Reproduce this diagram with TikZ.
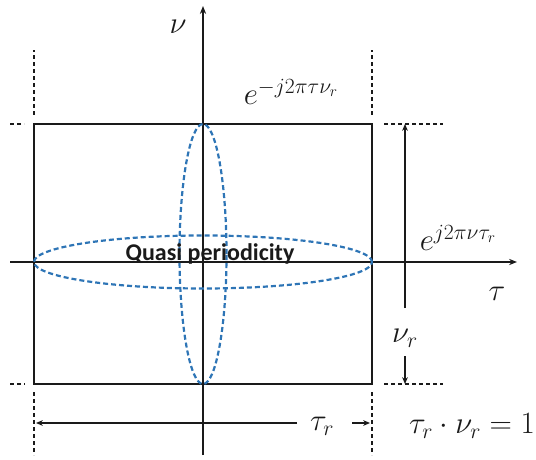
\RequirePackage{fix-cm}
\documentclass[tikz,border=0pt]{standalone}
\usepackage{fontspec}
\newfontfamily\labelfont{Carlito}
\usetikzlibrary{arrows.meta,positioning,calc,shapes.geometric}
\definecolor{ink}{HTML}{1A1A1A}
\definecolor{accent}{HTML}{2E75B6}
\tikzset{
  axis/.style={-{Stealth[length=2.8mm,width=2.2mm]},draw=ink,line width=1.9pt},
  cell/.style={draw=ink,line width=1.9pt,inner sep=0pt,outer sep=0pt},
  ell/.style={ellipse,draw=accent,line width=2.2pt,dash pattern=on 5pt off 3pt,inner sep=0pt,outer sep=0pt},
  guide/.style={draw=ink,line width=1.9pt,dash pattern=on 4pt off 3pt},
  ar/.style={-{Stealth[length=2.4mm,width=2mm]},draw=ink,line width=1.5pt},
  lbl/.style={inner sep=0pt,font=\fontsize{31}{34}\selectfont,text=ink},
  qp/.style={inner sep=0pt,font=\labelfont\bfseries\fontsize{24}{28}\selectfont,text=ink},
}
\begin{document}
\begin{tikzpicture}[x=1pt,y=1pt]
  \useasboundingbox (0,0) rectangle (536,459);
  % ── axes ──
  \coordinate (o) at (203,197);
  \coordinate (xl) at (10,197); \coordinate (xr) at (517,197);
  \coordinate (yb) at (203,4); \coordinate (yt) at (203,453);
  \node[cell,minimum width=338pt,minimum height=260pt] (box) at (203,205) {};
  \draw[axis] (xl) -- (xr);
  \draw[axis] (yb) -- (yt);
  \node[lbl] (nu) at (178,432) {$\nu$};
  \node[lbl] (tau) at (497,165) {$\tau$};
  % ── quasi periodicity ──
  \node[ell,minimum width=47pt,minimum height=260pt] (vell) at (box.center) {};
  \node[ell,minimum width=338pt,minimum height=53pt] (hell) at (o) {};
  \node[qp,anchor=base] (qlbl) at (210,199) {Quasi periodicity};
  \node[lbl] (phdop) at (291,367) {$e^{-j2\pi\tau\nu_r}$};
  % ── guides ──
  \draw[guide] ([yshift=9pt]box.north west) -- ++(0,65);
  \draw[guide] ([yshift=9pt]box.north east) -- ++(0,65);
  \draw[guide] ([yshift=-8pt]box.south west) -- ++(0,-63);
  \draw[guide] ([yshift=-8pt]box.south east) -- ++(0,-63);
  \draw[guide] ([xshift=-24pt]box.north west) -- ++(14,0);
  \draw[guide] ([xshift=-24pt]box.south west) -- ++(15,0);
  \draw[guide] ([xshift=12pt]box.north east) -- ++(59,0);
  \draw[guide] ([xshift=12pt]box.south east) -- ++(59,0);
  % ── delay period ──
  \coordinate (pa) at (405,151);
  \draw[ar] (pa) -- (pa |- box.north);
  \node[lbl] (phdel) at (458,221) {$e^{j2\pi\nu\tau_r}$};
  \node[lbl] (nur) at (405,121) {$\nu_r$};
  \coordinate (pb) at (405,103);
  \draw[ar] (pb) -- (pb |- box.south);
  % ── doppler period ──
  \coordinate (ta) at (297,36); \coordinate (tl) at (36,36);
  \draw[ar] (ta) -- (tl);
  \node[lbl] (taur) at (322,33) {$\tau_r$};
  \coordinate (tb) at (352,36); \coordinate (tr) at (370,36);
  \draw[ar] (tb) -- (tr);
  \node[lbl] (prod) at (472,33) {$\tau_r\cdot\nu_r=1$};
\end{tikzpicture}
\end{document}
